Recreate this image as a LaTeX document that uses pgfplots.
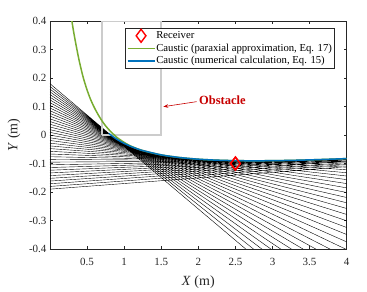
\documentclass[border=0pt]{standalone}
\usepackage{fontspec}
\setmainfont{Liberation Serif}
\usepackage{pgfplots}
\pgfplotsset{compat=1.18}
\usetikzlibrary{arrows.meta}
\definecolor{mgreen}{rgb}{0.466,0.674,0.188}
\definecolor{mblue}{rgb}{0,0.447,0.741}
\definecolor{obst}{rgb}{0.78,0,0}
\definecolor{boxgray}{rgb}{0.8,0.8,0.8}
\definecolor{axgray}{rgb}{0.15,0.15,0.15}
\begin{document}
\begin{tikzpicture}
\begin{axis}[
 scale only axis, width=296.7pt, height=228pt,
 xmin=0,xmax=4,ymin=-0.4,ymax=0.4,
 xtick={0.5,1,1.5,2,2.5,3,3.5,4}, xticklabels={0.5,1,1.5,2,2.5,3,3.5,4},
 ytick={-0.4,-0.3,-0.2,-0.1,0,0.1,0.2,0.3,0.4},
 yticklabels={-0.4,-0.3,-0.2,-0.1,0,0.1,0.2,0.3,0.4},
 tick align=inside, major tick length=3pt, tick pos=both,
 axis line style={axgray, line width=0.5pt}, tick style={axgray,line width=0.5pt},
 ticklabel style={font=\fontsize{11}{13}\selectfont, text=axgray},
 xticklabel style={yshift=-6pt},
 xlabel={\textit{X} (m)}, ylabel={\textit{Y} (m)},
 label style={font=\fontsize{14}{16}\selectfont, text=axgray},
 xlabel style={at={(axis description cs:0.5,-0.145)},anchor=center},
 ylabel style={at={(axis description cs:-0.1213,0.5)},anchor=center},
 legend cell align=left,
 legend style={at={(0.253,0.969)}, anchor=north west, draw=axgray, line width=0.5pt,
   inner xsep=1.5pt, inner ysep=1pt, row sep=0pt,
   nodes={inner sep=1pt, text height=8pt, text depth=2.5pt, font=\fontsize{10.7}{12}\selectfont}},
 legend image code/.code={\draw[mark repeat=2,mark phase=2,#1] plot coordinates {(0pt,0pt) (13.5pt,0pt) (27pt,0pt)};},
]
% rays
\addplot[forget plot, black, line width=0.4pt, unbounded coords=jump] coordinates {
(0,0.180000) (4,-0.699240) (nan,nan)
(0,0.170513) (4,-0.661443) (nan,nan)
(0,0.161026) (4,-0.624846) (nan,nan)
(0,0.151538) (4,-0.589434) (nan,nan)
(0,0.142051) (4,-0.555237) (nan,nan)
(0,0.132564) (4,-0.522228) (nan,nan)
(0,0.123077) (4,-0.490411) (nan,nan)
(0,0.113590) (4,-0.459794) (nan,nan)
(0,0.104103) (4,-0.430369) (nan,nan)
(0,0.094615) (4,-0.402133) (nan,nan)
(0,0.085128) (4,-0.375100) (nan,nan)
(0,0.075641) (4,-0.349263) (nan,nan)
(0,0.066154) (4,-0.324618) (nan,nan)
(0,0.056667) (4,-0.301173) (nan,nan)
(0,0.047179) (4,-0.278913) (nan,nan)
(0,0.037692) (4,-0.257856) (nan,nan)
(0,0.028205) (4,-0.237999) (nan,nan)
(0,0.018718) (4,-0.219330) (nan,nan)
(0,0.009231) (4,-0.201861) (nan,nan)
(0,-0.000256) (4,-0.185584) (nan,nan)
(0,-0.009744) (4,-0.170496) (nan,nan)
(0,-0.019231) (4,-0.156611) (nan,nan)
(0,-0.028718) (4,-0.143926) (nan,nan)
(0,-0.038205) (4,-0.132429) (nan,nan)
(0,-0.047692) (4,-0.122128) (nan,nan)
(0,-0.057179) (4,-0.113023) (nan,nan)
(0,-0.066667) (4,-0.105115) (nan,nan)
(0,-0.076154) (4,-0.098398) (nan,nan)
(0,-0.085641) (4,-0.092881) (nan,nan)
(0,-0.095128) (4,-0.088556) (nan,nan)
(0,-0.104615) (4,-0.085427) (nan,nan)
(0,-0.114103) (4,-0.083495) (nan,nan)
(0,-0.123590) (4,-0.082754) (nan,nan)
(0,-0.133077) (4,-0.083217) (nan,nan)
(0,-0.142564) (4,-0.084868) (nan,nan)
(0,-0.152051) (4,-0.087715) (nan,nan)
(0,-0.161538) (4,-0.091758) (nan,nan)
(0,-0.171026) (4,-0.096998) (nan,nan)
(0,-0.180513) (4,-0.103437) (nan,nan)
(0,-0.190000) (4,-0.111064)
};
% obstacle box
\addplot[forget plot, boxgray, line width=1.6pt] coordinates {(0.7,0) (1.5,0) (1.5,0.4) (0.7,0.4) (0.7,0)};
% receiver (legend)
\addplot[only marks, mark=diamond, mark size=6.5pt, red, line width=1.4pt] coordinates {(2.5,-0.1)};
\addlegendentry{Receiver}
% paraxial caustic
\addplot[mgreen, line width=1.5pt, smooth] coordinates {
(0.285,0.415) (0.295,0.40) (0.32,0.36) (0.36,0.304) (0.40,0.253) (0.45,0.200) (0.50,0.158)
(0.55,0.123) (0.60,0.095) (0.65,0.071) (0.70,0.050) (0.75,0.032) (0.80,0.017) (0.85,0.004)
(0.90,-0.008) (1.0,-0.026) (1.1,-0.040) (1.25,-0.0546) (1.5,-0.0698) (1.75,-0.0791)
(2,-0.0849) (2.25,-0.0883) (2.5,-0.0900) (2.75,-0.0905) (3,-0.0901) (3.25,-0.0890)
(3.5,-0.0873) (3.75,-0.0852) (4,-0.0828)};
\addlegendentry{Caustic (paraxial approximation, Eq. 17)}
% numerical caustic
\addplot[mblue, line width=1.5pt, smooth] coordinates {
(0.793,0.0057) (0.85,-0.0059) (0.9,-0.0148) (0.95,-0.0226) (1.0,-0.0295) (1.1,-0.0412)
(1.2,-0.0506) (1.25,-0.0546) (1.5,-0.0698) (1.75,-0.0791) (2,-0.0849) (2.25,-0.0883)
(2.5,-0.0900) (2.75,-0.0905) (3,-0.0901) (3.25,-0.0890) (3.5,-0.0873) (3.75,-0.0852)
(4,-0.0828)};
\addlegendentry{Caustic (numerical calculation, Eq. 15)}
\addplot[forget plot, only marks, mark=diamond, mark size=6.5pt, red, line width=1.4pt] coordinates {(2.5,-0.1)};
% annotation
\draw[obst, line width=0.6pt, -{Stealth[length=5pt,width=3.5pt]}] (axis cs:1.977,0.117) -- (axis cs:1.527,0.0993);
\node[obst, anchor=west, inner sep=0pt, font=\bfseries\fontsize{12.5}{14}\selectfont] at (axis cs:2.008,0.123) {Obstacle};
\end{axis}
\path (-50pt,-38pt) rectangle (317pt,249pt);
\end{tikzpicture}
\end{document}
